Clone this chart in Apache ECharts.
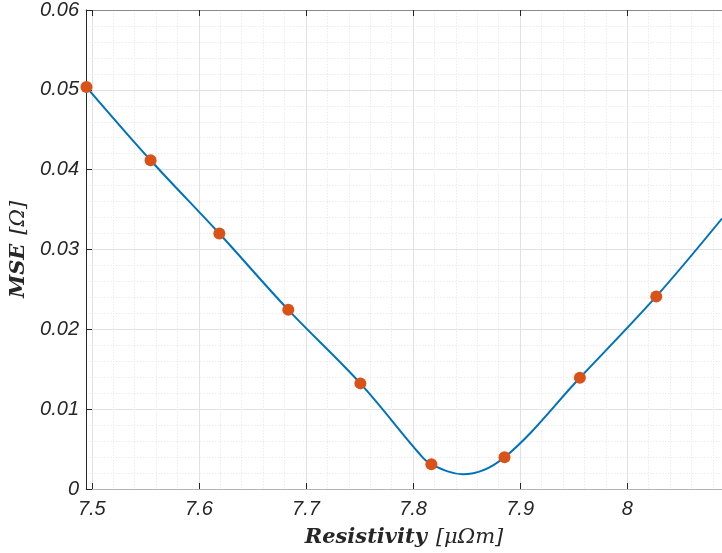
<!DOCTYPE html>
<html><head><meta charset="utf-8">
<script src="https://cdn.jsdelivr.net/npm/echarts@6/dist/echarts.min.js"></script>
<style>html,body{margin:0;padding:0;background:#fff}#c{width:722px;height:553px}</style>
</head><body><div id="c"></div>
<script>
// measured points (markers)
const pointX = [7.4950, 7.5549, 7.6191, 7.6835, 7.7508, 7.8171, 7.8854, 7.9558, 8.0271];
const pointY = [0.05035, 0.04118, 0.03200, 0.02244, 0.01323, 0.00309, 0.00397, 0.01393, 0.02412];
// fitted curve samples
const curveX = [7.4950, 7.5549, 7.6191, 7.6835, 7.7508, 7.8062, 7.8171, 7.8464, 7.8854, 7.9558, 8.0271, 8.0885];
const curveY = [0.05035, 0.04118, 0.03200, 0.02244, 0.01323, 0.00438, 0.00309, 0.00184, 0.00397, 0.01393, 0.02412, 0.03388];
// axis ticks
const xTicks = [7.5, 7.6, 7.7, 7.8, 7.9, 8.0];
const xMinorTicks = [7.52,7.54,7.56,7.58,7.62,7.64,7.66,7.68,7.72,7.74,7.76,7.78,7.82,7.84,7.86,7.88,7.92,7.94,7.96,7.98,8.02,8.04,8.06,8.08];
const xRange = [7.4946, 8.0885];
const yRange = [0, 0.06];
const yStep = 0.01;

const chart = echarts.init(document.getElementById('c'), null, {renderer: 'canvas'});
const tickFont = {fontFamily: 'Liberation Sans, Arial, sans-serif', fontStyle: 'italic', fontSize: 20, color: '#262626'};
const nameRich = {
  b: {fontFamily: 'DejaVu Serif', fontWeight: 'bold', fontStyle: 'italic', fontSize: 21, color: '#262626'},
  r: {fontFamily: 'DejaVu Serif', fontWeight: 'normal', fontStyle: 'italic', fontSize: 21, color: '#262626', padding: [0, 0, 0, 9]}
};
chart.setOption({
  backgroundColor: '#fff',
  animation: false,
  grid: {left: 86, top: 9, right: 0, bottom: 64, containLabel: false},
  xAxis: [
    {
      type: 'value', position: 'bottom', min: xRange[0], max: xRange[1],
      axisLine: {show: true, lineStyle: {color: '#b4b4b4', width: 1}},
      axisTick: {show: true, inside: true, length: 6, customValues: xTicks, lineStyle: {color: '#262626'}},
      axisLabel: {show: true, customValues: xTicks, margin: 10, formatter: v => String(Math.round(v * 10) / 10), ...tickFont},
      splitLine: {show: true, lineStyle: {color: '#e1e1e1', width: 1}},
      name: '{b|Resistivity}{r|[μΩm]}', nameLocation: 'middle', nameGap: 38,
      nameTextStyle: {rich: nameRich}
    },
    {
      type: 'value', position: 'top', min: xRange[0], max: xRange[1],
      axisLine: {show: true, lineStyle: {color: '#8a8a8a', width: 1}},
      axisTick: {show: true, inside: true, length: 6, customValues: xTicks, lineStyle: {color: '#262626'}},
      axisLabel: {show: false},
      splitLine: {show: false}
    },
    {
      type: 'value', position: 'bottom', min: xRange[0], max: xRange[1],
      axisLine: {show: false},
      axisTick: {show: false, customValues: xMinorTicks},
      axisLabel: {show: false, customValues: xMinorTicks},
      splitLine: {show: true, lineStyle: {color: '#ececec', width: 1, type: [1.5, 1.5]}}
    }
  ],
  yAxis: [{
    type: 'value', min: yRange[0], max: yRange[1], interval: yStep,
    axisLine: {show: true, lineStyle: {color: '#262626', width: 1}},
    axisTick: {show: true, inside: true, length: 6, lineStyle: {color: '#262626'}},
    axisLabel: {margin: 7, formatter: v => v === 0 ? '0' : v.toFixed(2), ...tickFont},
    splitLine: {show: true, lineStyle: {color: '#e1e1e1', width: 1}},
    minorTick: {show: false, splitNumber: 5},
    minorSplitLine: {show: true, lineStyle: {color: '#ececec', width: 1, type: [1.5, 1.5]}},
    name: '{b|MSE}{r|[Ω]}', nameLocation: 'middle', nameGap: 51, nameRotate: 90,
    nameTextStyle: {rich: nameRich}
  }],
  series: [
    {
      type: 'line', xAxisIndex: 0, yAxisIndex: 0,
      data: curveX.map((x, i) => [x, curveY[i]]),
      smooth: 0.35, showSymbol: false, clip: true,
      lineStyle: {color: '#0072BD', width: 2}, z: 3
    },
    {
      type: 'scatter', xAxisIndex: 0, yAxisIndex: 0,
      data: pointX.map((x, i) => [x, pointY[i]]),
      symbol: 'circle', symbolSize: 12, clip: false,
      itemStyle: {color: '#D95319', opacity: 1}, z: 4
    }
  ]
});
</script></body></html>
